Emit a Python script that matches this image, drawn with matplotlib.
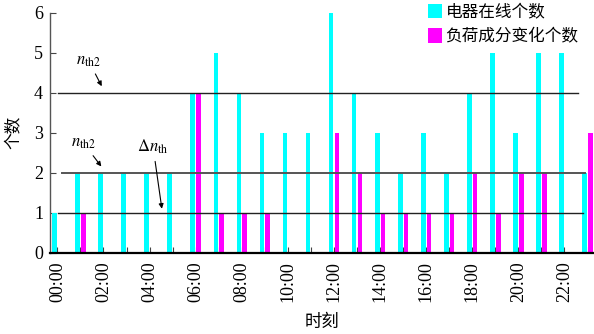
import matplotlib
matplotlib.use("Agg")
import matplotlib.pyplot as plt
import numpy as np

plt.rcParams['font.family'] = ['Liberation Serif', 'Noto Sans CJK SC']
plt.rcParams['mathtext.fontset'] = 'stix'

# Hourly data
hours = list(range(24))
hour_labels = ["%02d:00" % h if h % 2 == 0 else "" for h in hours]
online_count = [1, 2, 2, 2, 2, 2, 4, 5, 4, 3, 3, 3, 6, 4, 3, 2, 3, 2, 4, 5, 3, 5, 5, 2]
change_count = [0, 1, 0, 0, 0, 0, 4, 1, 1, 1, 0, 0, 3, 2, 1, 1, 1, 1, 2, 1, 2, 2, 0, 3]
series_names = ["电器在线个数", "负荷成分变化个数"]

# Threshold lines: level, x start, x end, colour, width
thresholds = [4, 2, 1]
threshold_spans = [(0.03, 22.6), (0.2, 22.9), (0.03, 22.8)]
threshold_colors = ["#222222", "#555555", "#222222"]
threshold_widths = [1.0, 1.4, 1.0]

fig = plt.figure(figsize=(5.94, 3.34), dpi=100)
ax = fig.add_axes([50 / 594, 81.3 / 334, 544 / 594, 240.0 / 334])

x = np.array(hours, dtype=float)
bw = 0.2
b1 = ax.bar(x - 0.125, online_count, width=bw, color="#00FFFF", label=series_names[0], zorder=2)
b2 = ax.bar(x + 0.125, change_count, width=bw, color="#FF00FF", label=series_names[1], zorder=2)

for lvl, (x0, x1), c, lw in zip(thresholds, threshold_spans, threshold_colors, threshold_widths):
    ax.plot([x0, x1], [lvl, lvl], color=c, lw=lw, zorder=3)

ax.set_xlim(-0.32, 23.28)
ax.set_ylim(0, 6)
ax.set_xticks(hours)
ax.set_xticklabels(hour_labels, rotation=90, fontsize=13)
ax.set_yticks(range(7))
ax.set_yticklabels([str(v) for v in range(7)], fontsize=13)
ax.tick_params(axis='both', direction='in', length=4, width=0.8, colors="#444444", labelcolor="black")
ax.tick_params(axis='x', pad=6)
ax.tick_params(axis='y', pad=5)

for side in ("top", "right"):
    ax.spines[side].set_visible(False)
ax.spines["bottom"].set_linewidth(1.6)
ax.spines["bottom"].set_color("black")
ax.spines["left"].set_linewidth(1.0)
ax.spines["left"].set_color("#555555")

ax.set_ylabel("个数", fontsize=12, labelpad=8)
ax.set_xlabel("时刻", fontsize=12.5, labelpad=9)

arrow = dict(arrowstyle="-|>", color="black", lw=0.8, mutation_scale=7)
ax.annotate(r"$n_{\mathrm{th2}}$", xy=(1.98, 4.1), xytext=(1.35, 4.8),
            fontsize=12, ha="center", va="center", arrowprops=arrow)
ax.annotate(r"$n_{\mathrm{th2}}$", xy=(1.98, 2.1), xytext=(1.12, 2.75),
            fontsize=12, ha="center", va="center", arrowprops=arrow)
ax.annotate(r"$\Delta n_{\mathrm{th}}$", xy=(4.55, 1.03), xytext=(4.15, 2.65),
            fontsize=12, ha="center", va="center", arrowprops=arrow)

fig.legend(handles=[b1, b2], loc="upper left", bbox_to_anchor=(428 / 594, 1 - 4 / 334),
           frameon=False, fontsize=12, handlelength=0.85, handleheight=0.95,
           handletextpad=0.2, labelspacing=0.45, borderpad=0, borderaxespad=0)

fig.savefig("out.png", dpi=100)
